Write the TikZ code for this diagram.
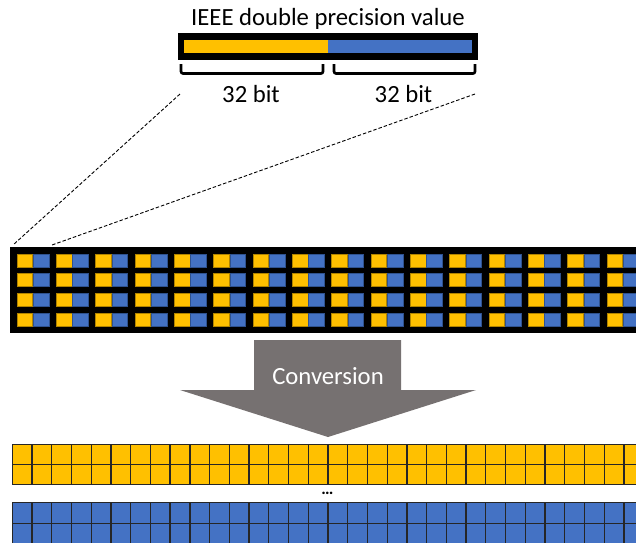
\documentclass[tikz,border=0pt]{standalone}
\usepackage{fontspec}
\setmainfont{Carlito}
\definecolor{gold}{HTML}{FFC000}
\definecolor{golddark}{HTML}{B08400}
\definecolor{steel}{HTML}{4472C4}
\definecolor{steeldark}{HTML}{2F528F}
\definecolor{arrowgray}{HTML}{767171}
\tikzset{
  label text/.style={font=\fontsize{24.7}{28}\selectfont, inner sep=0pt, anchor=base},
  guide/.style={line width=0.9pt, dash pattern=on 3.5pt off 2pt},
  brace/.style={line width=2.6pt, rounded corners=2pt},
  pairhi/.style={fill=gold, draw=golddark, line width=0.6pt},
  pairlo/.style={fill=steel, draw=steeldark, line width=0.6pt},
  gridcell/.style={draw=black!85, line width=1.3pt},
}
\begin{document}
\begin{tikzpicture}[x=1pt,y=-1pt]
\useasboundingbox (0,0) rectangle (636,542);
\clip (0,0) rectangle (636,542);

% single double-precision value
\node[label text] (title) at (328,25) {IEEE double precision value};
\fill[black] (178,33) rectangle (478,60);
\node[fill=gold, minimum width=144pt, minimum height=13pt, inner sep=0pt, anchor=north west] (hi) at (184,40) {};
\node[fill=steel, minimum width=144pt, minimum height=13pt, inner sep=0pt, anchor=north west] (lo) at (328,40) {};

% brackets for the two 32-bit halves
\draw[brace] (181,64) -- (181,73.5) -- (323,73.5) -- (323,64);
\draw[brace] (334,64) -- (334,73.5) -- (475,73.5) -- (475,64);
\node[label text] (hibits) at (251,102) {32 bit};
\node[label text] (lobits) at (403.5,102) {32 bit};

% zoom guides to the first element of the array
\coordinate (gl1) at (180,94);
\coordinate (gl2) at (13,245);
\coordinate (gr1) at (475,94);
\coordinate (gr2) at (52,245);
\draw[guide] (gl1) -- (gl2);
\draw[guide] (gr1) -- (gr2);

% interleaved array of doubles
\fill[black] (10,247) rectangle (660,333);
\foreach \k in {0,...,16} {
  \foreach \r in {0,...,3} {
    \pgfmathsetmacro{\xa}{17+39.33*\k}
    \pgfmathsetmacro{\ya}{254+19.7*\r}
    \draw[pairhi] (\xa,\ya) rectangle ++(15.5,13);
    \draw[pairlo] (\xa+16.3,\ya) rectangle ++(15.7,13);
  }
}

% conversion arrow
\fill[arrowgray] (254,340) -- (401,340) -- (401,390) -- (476,390) -- (328,437)
  -- (180,390) -- (254,390) -- cycle;
\node[label text, text=white] (conv) at (328,384) {Conversion};

% split arrays: high words and low words
\fill[gold] (12.3,444.3) rectangle (660,484.3);
\fill[steel] (12.3,502.7) rectangle (660,545);
\foreach \c in {0,...,32} {
  \pgfmathsetmacro{\xc}{12.3+19.73*\c}
  \foreach \r in {0,1} {
    \draw[gridcell] (\xc,444.3+20*\r) rectangle ++(19.73,20);
    \draw[gridcell] (\xc,502.7+20.6*\r) rectangle ++(19.73,20.6);
  }
}
\node[font=\fontsize{17}{19}\selectfont\bfseries, inner sep=0pt] (dots) at (327.5,493) {\dots};
\end{tikzpicture}
\end{document}
